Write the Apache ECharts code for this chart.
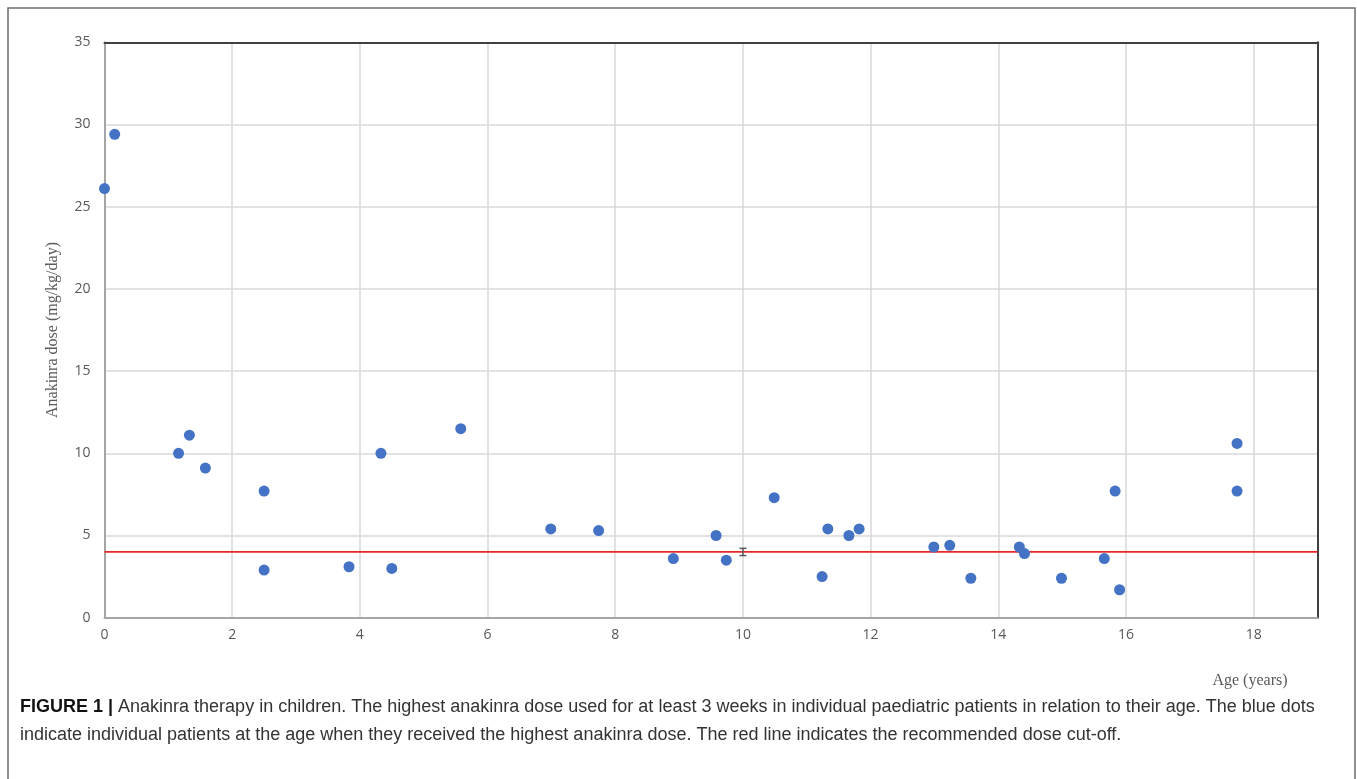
<!DOCTYPE html>
<html>
<head>
<meta charset="utf-8">
<script src="https://cdn.jsdelivr.net/npm/echarts@6/dist/echarts.min.js"></script>
<style>
  html, body { margin: 0; padding: 0; background: #fff; }
  #chart { width: 1357px; height: 779px; }
</style>
</head>
<body>
<div id="chart"></div>
<script>
// patient age (years) and highest anakinra dose (mg/kg/day)
const ages = [0, 0.16, 1.16, 1.33, 1.58, 2.5, 2.5, 3.83, 4.33, 4.5, 5.58,
  6.99, 7.74, 8.91, 9.58, 9.74, 10.49, 11.24, 11.33, 11.66, 11.82,
  12.99, 13.24, 13.57, 14.33, 14.41, 14.99, 15.66, 15.83, 15.9, 17.74, 17.74];
const doses = [26.1, 29.4, 10.0, 11.1, 9.1, 7.7, 2.9, 3.1, 10.0, 3.0, 11.5,
  5.4, 5.3, 3.6, 5.0, 3.5, 7.3, 2.5, 5.4, 5.0, 5.4,
  4.3, 4.4, 2.4, 4.3, 3.9, 2.4, 3.6, 7.7, 1.7, 10.6, 7.7];

// recommended cut-off line
const cutoffX = [0, 19];
const cutoffY = [4, 4];

// small error bar marker [x, low, high]
const errBar = [[10, 3.78, 4.22]];

const xTicks = { min: 0, max: 19, interval: 2 };
const yTicks = { min: 0, max: 35, interval: 5 };

const tickFont = { color: '#595959', fontSize: 14, fontFamily: 'Open Sans' };
const serif = 'Liberation Serif';
const capFont = 'Liberation Sans';

const chart = echarts.init(document.getElementById('chart'));

chart.setOption({
  animation: false,
  grid: { left: 104.5, right: 39.5, top: 42.3, bottom: 161.3 },
  xAxis: [
    {
      type: 'value', min: xTicks.min, max: xTicks.max, interval: xTicks.interval,
      axisLine: { onZero: false, lineStyle: { color: '#a6a6a6', width: 2 } },
      axisTick: { show: false },
      splitLine: { lineStyle: { color: '#d9d9d9', width: 1.5 } },
      axisLabel: Object.assign({ margin: 10, showMaxLabel: false,
        formatter: v => (v % 2 === 0 ? String(v) : '') }, tickFont)
    },
    {
      type: 'value', position: 'top', min: xTicks.min, max: xTicks.max,
      axisLine: { show: true, onZero: false, lineStyle: { color: '#404040', width: 2 } },
      axisTick: { show: false }, axisLabel: { show: false }, splitLine: { show: false }
    }
  ],
  yAxis: [
    {
      type: 'value', min: yTicks.min, max: yTicks.max, interval: yTicks.interval,
      axisLine: { show: true, onZero: false, lineStyle: { color: '#a6a6a6', width: 2 } },
      axisTick: { show: false },
      splitLine: { lineStyle: { color: '#d9d9d9', width: 1.5 } },
      axisLabel: Object.assign({ margin: 14 }, tickFont)
    },
    {
      type: 'value', position: 'right', min: yTicks.min, max: yTicks.max,
      axisLine: { show: true, onZero: false, lineStyle: { color: '#404040', width: 2 } },
      axisTick: { show: false }, axisLabel: { show: false }, splitLine: { show: false }
    }
  ],
  series: [
    {
      type: 'line',
      data: cutoffX.map((x, i) => [x, cutoffY[i]]),
      symbol: 'none',
      lineStyle: { color: '#e8282b', width: 1.8 },
      z: 2
    },
    {
      type: 'custom',
      data: errBar,
      renderItem: (params, api) => {
        const top = api.coord([api.value(0), api.value(2)]);
        const bot = api.coord([api.value(0), api.value(1)]);
        const w = 3.5;
        const st = { stroke: '#595959', lineWidth: 1.5 };
        return {
          type: 'group',
          children: [
            { type: 'line', shape: { x1: top[0], y1: top[1], x2: bot[0], y2: bot[1] }, style: st },
            { type: 'line', shape: { x1: top[0] - w, y1: top[1], x2: top[0] + w, y2: top[1] }, style: st },
            { type: 'line', shape: { x1: bot[0] - w, y1: bot[1], x2: bot[0] + w, y2: bot[1] }, style: st }
          ]
        };
      },
      z: 3
    },
    {
      type: 'scatter',
      data: ages.map((a, i) => [a, doses[i]]),
      symbolSize: 11,
      itemStyle: { color: '#4472c4', opacity: 1 },
      z: 4
    }
  ],
  graphic: [
    {
      type: 'rect',
      shape: { x: 8, y: 8, width: 1347, height: 800 },
      style: { fill: 'none', stroke: '#6e6e6e', lineWidth: 1.5 },
      silent: true
    },
    {
      type: 'text', rotation: Math.PI / 2, x: 53, y: 330,
      style: {
        text: 'Anakinra dose (mg/kg/day)', fill: '#595959',
        font: '16px ' + serif, align: 'center', verticalAlign: 'middle'
      }
    },
    {
      type: 'text', x: 1250, y: 681,
      style: {
        text: 'Age (years)', fill: '#595959',
        font: '16px ' + serif, align: 'center', verticalAlign: 'middle'
      }
    },
    {
      type: 'text', x: 20, y: 707,
      style: {
        text: '{b|FIGURE 1 |} Anakinra therapy in children. The highest anakinra dose used for at least 3 weeks in individual paediatric patients in relation to their age. The blue dots',
        verticalAlign: 'middle', fill: '#333', fontSize: 18, fontFamily: capFont,
        rich: { b: { fontWeight: 'bold', fill: '#111', fontSize: 18, fontFamily: capFont } }
      }
    },
    {
      type: 'text', x: 20, y: 735,
      style: {
        text: 'indicate individual patients at the age when they received the highest anakinra dose. The red line indicates the recommended dose cut-off.',
        verticalAlign: 'middle', fill: '#333', fontSize: 18, fontFamily: capFont
      }
    }
  ]
});
</script>
</body>
</html>
